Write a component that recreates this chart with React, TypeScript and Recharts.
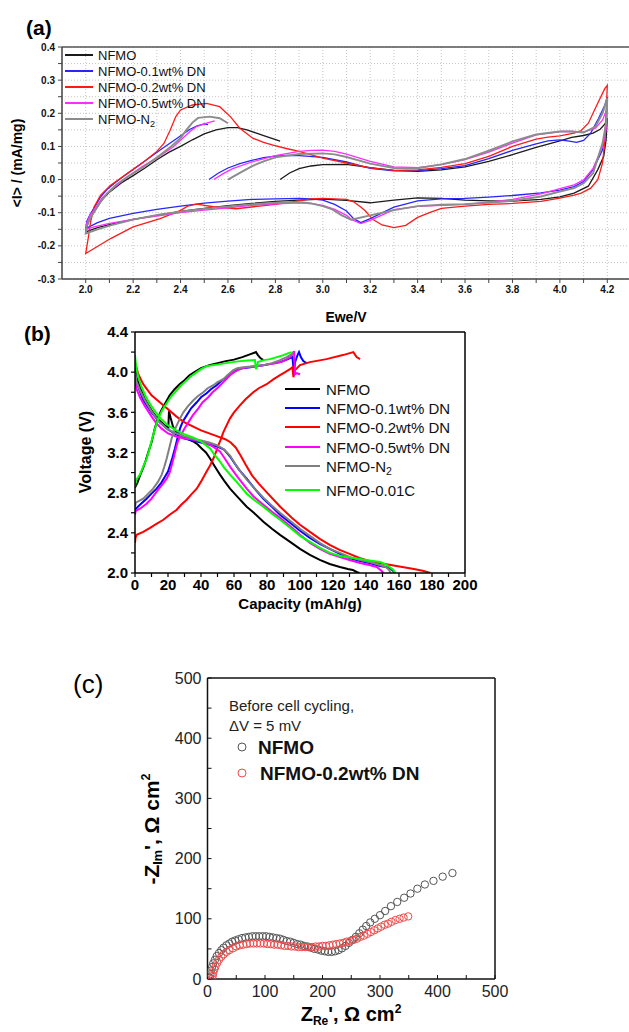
import React from 'react';
import { LineChart, Line, XAxis, YAxis, CartesianGrid, ScatterChart, Scatter } from 'recharts';

type P = [number, number];
const FONT = '"Liberation Sans", Arial, Helvetica, sans-serif';

// ---------- Panel (a): cyclic voltammetry (Ewe/V vs <I> mA/mg) ----------
const cvNFMO: P[] = [
  [2.82, 0.0], [2.86, 0.02], [2.9, 0.033], [2.95, 0.041], [3.0, 0.045], [3.1, 0.046], [3.2, 0.036], [3.3, 0.028], [3.4, 0.025], [3.5, 0.029], [3.6, 0.038], [3.7, 0.055], [3.8, 0.075], [3.9, 0.097], [4.0, 0.117], [4.05, 0.127], [4.1, 0.133], [4.14, 0.14], [4.17, 0.152], [4.19, 0.168], [4.2, 0.186],
  [4.195, 0.12], [4.185, 0.07], [4.16, 0.03], [4.12, -0.02], [4.06, -0.041], [4.0, -0.052], [3.92, -0.06], [3.8, -0.065], [3.7, -0.064], [3.6, -0.062], [3.5, -0.057], [3.4, -0.055], [3.3, -0.062], [3.2, -0.07], [3.1, -0.063], [3.0, -0.059], [2.9, -0.062], [2.8, -0.066], [2.7, -0.072], [2.6, -0.079], [2.5, -0.087], [2.4, -0.096], [2.3, -0.108], [2.2, -0.12], [2.1, -0.136], [2.05, -0.145], [2.0, -0.158],
  [2.01, -0.13], [2.035, -0.098], [2.07, -0.06], [2.1, -0.038], [2.15, -0.01], [2.2, 0.012], [2.25, 0.035], [2.3, 0.06], [2.35, 0.082], [2.4, 0.1], [2.45, 0.12], [2.5, 0.138], [2.55, 0.15], [2.6, 0.157], [2.64, 0.157], [2.68, 0.15], [2.72, 0.14], [2.76, 0.13], [2.82, 0.116],
];
const cv01: P[] = [
  [2.52, 0.0], [2.56, 0.02], [2.6, 0.035], [2.65, 0.048], [2.7, 0.058], [2.75, 0.066], [2.8, 0.071], [2.85, 0.073], [2.9, 0.072], [3.0, 0.067], [3.1, 0.053], [3.2, 0.034], [3.3, 0.026], [3.4, 0.027], [3.5, 0.033], [3.6, 0.042], [3.7, 0.063], [3.8, 0.088], [3.9, 0.108], [3.95, 0.117], [4.0, 0.12], [4.04, 0.116], [4.07, 0.112], [4.1, 0.118], [4.13, 0.14], [4.16, 0.18], [4.19, 0.225], [4.2, 0.25],
  [4.195, 0.17], [4.18, 0.09], [4.14, 0.03], [4.1, -0.006], [4.06, -0.021], [4.0, -0.032], [3.92, -0.04], [3.8, -0.048], [3.7, -0.053], [3.6, -0.057], [3.5, -0.058], [3.4, -0.064], [3.3, -0.083], [3.2, -0.118], [3.16, -0.13], [3.13, -0.118], [3.1, -0.095], [3.05, -0.075], [3.0, -0.062], [2.95, -0.058], [2.9, -0.057], [2.8, -0.058], [2.7, -0.06], [2.6, -0.065], [2.5, -0.071], [2.4, -0.08], [2.3, -0.09], [2.2, -0.102], [2.1, -0.117], [2.05, -0.13], [2.0, -0.148],
  [2.005, -0.125], [2.02, -0.103], [2.04, -0.08], [2.063, -0.052], [2.09, -0.03], [2.12, -0.012], [2.175, 0.018], [2.244, 0.053], [2.314, 0.089], [2.384, 0.124], [2.44, 0.152], [2.47, 0.162], [2.5, 0.168], [2.516, 0.166],
];
const cv02: P[] = [
  [2.727, 0.119], [2.75, 0.112], [2.79, 0.104], [2.85, 0.093], [2.9, 0.085], [3.0, 0.065], [3.1, 0.05], [3.2, 0.035], [3.3, 0.028], [3.4, 0.029], [3.5, 0.037], [3.6, 0.048], [3.7, 0.07], [3.8, 0.1], [3.9, 0.122], [3.95, 0.128], [4.0, 0.132], [4.06, 0.14], [4.09, 0.148], [4.12, 0.17], [4.16, 0.231], [4.19, 0.275], [4.2, 0.284],
  [4.195, 0.2], [4.19, 0.12], [4.18, 0.05], [4.16, 0.0], [4.13, -0.026], [4.09, -0.041], [4.06, -0.047], [4.0, -0.056], [3.92, -0.066], [3.8, -0.072], [3.7, -0.075], [3.6, -0.08], [3.5, -0.087], [3.45, -0.1], [3.4, -0.114], [3.35, -0.138], [3.3, -0.145], [3.25, -0.137], [3.21, -0.12], [3.18, -0.095], [3.16, -0.083], [3.13, -0.067], [3.1, -0.06], [3.0, -0.057], [2.95, -0.058], [2.873, -0.067], [2.8, -0.075], [2.733, -0.08], [2.635, -0.088], [2.538, -0.082], [2.468, -0.074], [2.43, -0.08], [2.4, -0.093], [2.314, -0.118], [2.2, -0.143], [2.105, -0.178], [2.035, -0.208], [2.0, -0.223],
  [2.01, -0.18], [2.02, -0.13], [2.035, -0.083], [2.063, -0.047], [2.105, -0.017], [2.175, 0.018], [2.244, 0.053], [2.3, 0.085], [2.33, 0.109], [2.356, 0.149], [2.38, 0.19], [2.4, 0.21], [2.45, 0.225], [2.51, 0.23], [2.565, 0.22], [2.61, 0.19], [2.65, 0.155], [2.706, 0.124], [2.727, 0.119],
];
const cv05: P[] = [
  [2.54, 0.0], [2.58, 0.018], [2.62, 0.033], [2.7, 0.053], [2.8, 0.072], [2.9, 0.085], [2.95, 0.088], [3.0, 0.089], [3.05, 0.085], [3.1, 0.077], [3.2, 0.055], [3.3, 0.038], [3.4, 0.036], [3.5, 0.045], [3.6, 0.06], [3.7, 0.083], [3.8, 0.11], [3.9, 0.135], [4.0, 0.145], [4.05, 0.145], [4.1, 0.143], [4.15, 0.155], [4.18, 0.18], [4.2, 0.216],
  [4.195, 0.15], [4.18, 0.1], [4.14, 0.034], [4.1, -0.001], [4.06, -0.016], [4.0, -0.027], [3.92, -0.043], [3.8, -0.06], [3.7, -0.068], [3.6, -0.075], [3.5, -0.078], [3.4, -0.081], [3.3, -0.091], [3.2, -0.123], [3.16, -0.133], [3.12, -0.12], [3.1, -0.108], [3.05, -0.09], [3.0, -0.078], [2.95, -0.072], [2.9, -0.07], [2.8, -0.073], [2.7, -0.078], [2.6, -0.085], [2.5, -0.092], [2.4, -0.1], [2.3, -0.11], [2.2, -0.12], [2.1, -0.132], [2.035, -0.143], [2.0, -0.151],
  [2.005, -0.13], [2.02, -0.105], [2.035, -0.093], [2.07, -0.055], [2.1, -0.036], [2.175, 0.008], [2.24, 0.04], [2.3, 0.065], [2.37, 0.099], [2.44, 0.145], [2.467, 0.16], [2.51, 0.17], [2.544, 0.177],
];
const cvN2: P[] = [
  [2.6, 0.0], [2.65, 0.02], [2.7, 0.04], [2.75, 0.055], [2.8, 0.067], [2.9, 0.077], [3.0, 0.079], [3.05, 0.076], [3.1, 0.068], [3.2, 0.048], [3.3, 0.035], [3.4, 0.034], [3.5, 0.046], [3.6, 0.062], [3.7, 0.087], [3.8, 0.115], [3.9, 0.136], [4.0, 0.145], [4.05, 0.145], [4.1, 0.142], [4.15, 0.16], [4.18, 0.2], [4.2, 0.246],
  [4.195, 0.17], [4.18, 0.11], [4.14, 0.019], [4.1, -0.011], [4.06, -0.026], [4.0, -0.036], [3.92, -0.051], [3.8, -0.064], [3.7, -0.07], [3.6, -0.074], [3.5, -0.076], [3.4, -0.08], [3.3, -0.092], [3.2, -0.108], [3.12, -0.121], [3.08, -0.108], [3.04, -0.09], [3.0, -0.08], [2.95, -0.072], [2.9, -0.068], [2.8, -0.07], [2.733, -0.073], [2.6, -0.081], [2.454, -0.092], [2.314, -0.105], [2.2, -0.121], [2.105, -0.138], [2.05, -0.15], [2.0, -0.163],
  [2.005, -0.14], [2.02, -0.115], [2.035, -0.098], [2.06, -0.07], [2.09, -0.042], [2.13, -0.015], [2.175, 0.008], [2.244, 0.038], [2.314, 0.074], [2.36, 0.1], [2.4, 0.125], [2.425, 0.15], [2.45, 0.172], [2.474, 0.186], [2.523, 0.19], [2.565, 0.185], [2.6, 0.17],
];
const aXTicks = [2.0, 2.1, 2.2, 2.3, 2.4, 2.5, 2.6, 2.7, 2.8, 2.9, 3.0, 3.1, 3.2, 3.3, 3.4, 3.5, 3.6, 3.7, 3.8, 3.9, 4.0, 4.1, 4.2];
const aYTicks = [-0.3, -0.25, -0.2, -0.15, -0.1, -0.05, 0.0, 0.05, 0.1, 0.15, 0.2, 0.25, 0.3, 0.35, 0.4];

// ---------- Panel (b): charge / discharge (Capacity mAh/g vs Voltage V) ----------
const chNFMO: P[] = [[0, 2.85], [1.5, 2.9], [3, 2.97], [5, 3.05], [6.5, 3.12], [8, 3.2], [10, 3.3], [12, 3.44], [14, 3.55], [16, 3.62], [18, 3.68], [21, 3.77], [24, 3.83], [27, 3.88], [30, 3.92], [33, 3.97], [36, 4.0], [40, 4.04], [45, 4.07], [50, 4.09], [55, 4.11], [60, 4.125], [65, 4.15], [70, 4.18], [73.3, 4.2], [74.5, 4.17], [76, 4.14], [77.8, 4.12]];
const dcNFMO: P[] = [[0, 4.07], [1, 3.95], [3, 3.85], [6, 3.73], [10, 3.62], [14, 3.53], [18, 3.47], [20.2, 3.45], [20.6, 3.61], [21.5, 3.55], [23, 3.46], [25, 3.4], [27.3, 3.37], [31, 3.34], [35.4, 3.31], [38, 3.28], [40.4, 3.24], [43, 3.2], [45.5, 3.14], [48, 3.07], [51.5, 2.98], [54, 2.92], [57.6, 2.84], [62, 2.76], [67.7, 2.66], [72, 2.6], [77.8, 2.51], [83, 2.44], [87.9, 2.38], [94, 2.31], [100, 2.24], [106, 2.18], [112, 2.13], [118, 2.09], [124.2, 2.06], [129, 2.04], [132, 2.03], [134.3, 2.01], [136, 2.0]];
const ch01: P[] = [[0, 2.6], [0.5, 2.64], [3, 2.68], [7, 2.74], [10, 2.79], [13.1, 2.84], [16, 2.9], [18.2, 2.96], [20, 3.01], [21.2, 3.07], [22.7, 3.15], [24.2, 3.24], [25.7, 3.34], [27.3, 3.44], [29, 3.51], [31.3, 3.57], [34, 3.64], [37.4, 3.7], [40, 3.75], [43.4, 3.79], [46, 3.83], [49.5, 3.87], [52, 3.91], [55.6, 3.95], [58, 3.98], [61.6, 4.02], [65, 4.04], [70, 4.05], [77.8, 4.07], [83, 4.085], [87.9, 4.1], [92, 4.125], [95.4, 4.15], [96.3, 4.0], [97, 4.1], [98.5, 4.17], [99.4, 4.2], [100.5, 4.15], [102, 4.11], [104, 4.09]];
const dc01: P[] = [[0, 4.0], [1, 3.9], [2, 3.85], [5, 3.72], [10, 3.6], [15, 3.5], [20, 3.43], [25, 3.38], [30, 3.34], [35, 3.32], [40, 3.3], [45, 3.28], [50, 3.26], [54, 3.23], [57.6, 3.16], [60, 3.1], [63, 3.03], [67.7, 2.94], [72, 2.85], [77.8, 2.74], [83, 2.66], [87.9, 2.58], [94, 2.5], [100, 2.42], [106, 2.35], [112, 2.29], [118, 2.24], [124.2, 2.19], [130, 2.15], [136.4, 2.12], [142, 2.1], [148.5, 2.07], [152, 2.06], [154.5, 2.05], [156.5, 2.02], [157.6, 2.0]];
const ch02: P[] = [[0, 2.3], [0.3, 2.35], [1, 2.38], [5, 2.41], [9.1, 2.45], [13, 2.49], [17.2, 2.53], [21, 2.58], [25.3, 2.63], [28, 2.68], [31.3, 2.73], [34, 2.78], [37.4, 2.84], [40, 2.91], [43.4, 3.01], [45.5, 3.07], [47.5, 3.14], [49, 3.2], [50.5, 3.27], [52, 3.33], [53.5, 3.4], [55.5, 3.47], [57.6, 3.54], [60, 3.6], [63.6, 3.67], [67, 3.73], [71.7, 3.8], [75, 3.84], [79.8, 3.88], [84, 3.93], [87.9, 3.97], [91, 4.0], [93.9, 4.03], [95.4, 4.05], [96, 3.95], [97, 4.02], [100, 4.07], [106, 4.1], [116, 4.13], [126, 4.17], [132.3, 4.2], [134.3, 4.15], [136.4, 4.13]];
const dc02: P[] = [[0, 4.1], [2, 3.98], [5, 3.88], [10, 3.77], [15, 3.7], [20, 3.63], [25, 3.56], [30, 3.5], [35, 3.46], [40, 3.42], [45, 3.39], [50, 3.36], [55, 3.33], [58, 3.3], [61, 3.25], [64, 3.17], [67, 3.08], [71, 2.97], [75, 2.89], [80, 2.8], [88, 2.66], [95, 2.55], [100, 2.48], [106, 2.41], [112, 2.34], [118, 2.28], [124, 2.23], [130, 2.19], [136, 2.15], [142, 2.12], [148, 2.1], [155, 2.08], [162, 2.06], [169, 2.04], [175, 2.02], [179, 2.0]];
const ch05: P[] = [[0, 2.58], [0.4, 2.62], [3, 2.64], [7, 2.69], [10, 2.74], [14.1, 2.83], [17, 2.89], [19.2, 2.94], [21, 3.0], [22.2, 3.07], [23.5, 3.15], [24.8, 3.24], [26, 3.31], [27.7, 3.37], [30, 3.44], [32.3, 3.5], [35, 3.57], [38.4, 3.64], [41, 3.7], [44.4, 3.75], [47, 3.8], [50.5, 3.85], [54, 3.91], [57.6, 3.97], [60, 4.0], [63.6, 4.03], [68, 4.05], [73.7, 4.06], [80, 4.075], [85.9, 4.09], [90, 4.11], [94, 4.15], [95.5, 4.18], [96.4, 4.21], [97, 3.98], [98, 3.99], [100, 3.98]];
const dc05: P[] = [[0, 3.92], [1, 3.83], [3, 3.75], [6, 3.66], [10, 3.56], [13, 3.49], [16, 3.44], [20, 3.39], [25, 3.36], [30, 3.34], [35, 3.33], [40, 3.31], [43.4, 3.29], [47, 3.26], [51.5, 3.21], [54, 3.15], [57.6, 3.06], [62, 2.96], [67.7, 2.84], [72, 2.76], [77.8, 2.68], [83, 2.61], [87.9, 2.55], [93, 2.48], [98, 2.41], [100, 2.38], [106, 2.3], [112, 2.24], [118, 2.19], [124.2, 2.16], [130, 2.13], [136.4, 2.1], [142, 2.08], [146.5, 2.06], [148, 2.04], [149.5, 2.02], [150.5, 2.0]];
const chN2: P[] = [[0, 2.66], [0.5, 2.7], [5, 2.74], [8, 2.79], [11, 2.84], [14, 2.91], [16.2, 2.98], [17.8, 3.06], [19.2, 3.14], [20.7, 3.24], [22.2, 3.34], [23.7, 3.41], [25.3, 3.47], [27, 3.53], [29.3, 3.6], [32, 3.66], [35.4, 3.72], [38, 3.76], [41.4, 3.8], [44, 3.84], [47.5, 3.87], [50, 3.9], [53.5, 3.93], [56, 3.97], [59.6, 4.02], [62, 4.04], [65.7, 4.05], [72, 4.06], [77.8, 4.07], [83, 4.09], [87.9, 4.12], [92, 4.15], [95, 4.18], [96, 4.2]];
const dcN2: P[] = [[0, 4.0], [1, 3.9], [3, 3.82], [6, 3.72], [10, 3.61], [15, 3.5], [20, 3.43], [25, 3.39], [30, 3.36], [35, 3.34], [40, 3.32], [45, 3.3], [50, 3.27], [54, 3.23], [57.6, 3.17], [61, 3.08], [64, 3.01], [67.7, 2.93], [72, 2.85], [77.8, 2.75], [83, 2.67], [87.9, 2.6], [94, 2.52], [100, 2.44], [106, 2.37], [112, 2.3], [118, 2.24], [124.2, 2.2], [130, 2.16], [136.4, 2.13], [142, 2.11], [148.5, 2.08], [152, 2.06], [154, 2.03], [155, 2.0]];
const ch001C: P[] = [[0, 2.86], [0.5, 2.92], [3, 2.98], [5, 3.06], [7.1, 3.14], [8.5, 3.22], [10.1, 3.32], [12, 3.43], [14.1, 3.54], [16.5, 3.62], [19.2, 3.69], [22, 3.76], [25.3, 3.82], [28, 3.87], [31.3, 3.92], [34, 3.96], [37.4, 4.0], [40, 4.03], [43.4, 4.06], [47, 4.07], [51.5, 4.08], [57, 4.095], [63.6, 4.11], [68, 4.115], [72.7, 4.12], [73.3, 4.03], [74, 4.06], [74.5, 4.1], [78, 4.12], [81.8, 4.13], [86, 4.15], [89.9, 4.17], [93, 4.19], [95, 4.2]];
const dc001C: P[] = [[0, 4.17], [0.7, 4.05], [2, 3.95], [4, 3.85], [7, 3.74], [10, 3.66], [13, 3.59], [16, 3.53], [20, 3.47], [25, 3.42], [30, 3.38], [35, 3.35], [40, 3.31], [45.5, 3.24], [48, 3.18], [51.5, 3.11], [54, 3.05], [57.6, 2.98], [62, 2.9], [67.7, 2.79], [72, 2.73], [77.8, 2.66], [83, 2.59], [87.9, 2.53], [94, 2.45], [100, 2.37], [106, 2.31], [112, 2.25], [118, 2.2], [124.2, 2.17], [130, 2.155], [136.4, 2.14], [142, 2.125], [148.5, 2.11], [152.6, 2.08], [155, 2.05], [156.6, 2.03], [157.6, 2.0]];
const bXTicks = [0, 10, 20, 30, 40, 50, 60, 70, 80, 90, 100, 110, 120, 130, 140, 150, 160, 170, 180, 190, 200];
const bYTicks = [2.0, 2.2, 2.4, 2.6, 2.8, 3.0, 3.2, 3.4, 3.6, 3.8, 4.0, 4.2, 4.4];

// ---------- Panel (c): Nyquist plot (Z_Re vs -Z_Im, Ohm cm2) ----------
const eisNFMO: P[] = [[4, 2], [5, 8], [6, 14], [8, 20], [10, 26], [13, 32], [16, 38], [20, 43], [24, 48], [28, 52], [33, 56], [38, 59], [43, 62], [48, 64], [54, 66], [60, 68], [66, 69], [72, 70], [78, 71], [84, 71], [90, 71], [96, 71], [102, 71], [108, 70], [114, 69], [120, 68], [126, 67], [132, 65], [138, 63], [144, 62], [150, 60], [156, 58], [162, 57], [168, 55], [174, 54], [180, 52], [186, 50], [192, 49], [198, 47], [204, 46], [210, 45], [216, 45], [222, 46], [228, 48], [234, 51], [240, 55], [246, 60], [252, 65], [258, 70], [264, 76], [270, 82], [276, 88], [283, 94], [291, 100], [300, 106], [309, 113], [319, 121], [330, 128], [342, 135], [353, 142], [365, 150], [378, 157], [393, 163], [409, 170], [426, 176]];
const eis02: P[] = [[8, 0], [9, 5], [10, 10], [12, 16], [14, 21], [17, 27], [20, 32], [24, 37], [28, 41], [33, 45], [38, 48], [44, 51], [50, 54], [56, 56], [62, 57], [68, 58], [74, 59], [80, 59], [86, 59], [92, 59], [98, 59], [104, 58], [110, 58], [116, 57], [122, 57], [128, 56], [134, 55], [140, 55], [146, 54], [152, 54], [158, 53], [164, 53], [170, 53], [176, 53], [182, 53], [188, 54], [194, 54], [200, 55], [206, 55], [212, 56], [218, 57], [224, 58], [230, 59], [236, 60], [242, 62], [248, 63], [254, 65], [260, 67], [266, 70], [272, 72], [278, 75], [284, 78], [290, 81], [296, 84], [302, 87], [308, 90], [314, 92], [320, 95], [327, 98], [334, 100], [341, 102], [349, 104]];
const cTicks = [0, 50, 100, 150, 200, 250, 300, 350, 400, 450, 500];

const toPts = (a: P[]) => a.map(([x, y]) => ({ x, y }));

const seriesA = [
  { name: 'NFMO', data: cvNFMO, color: '#1a1a1a', w: 1.3 },
  { name: 'NFMO-0.1wt% DN', data: cv01, color: '#2626ff', w: 1.3 },
  { name: 'NFMO-0.2wt% DN', data: cv02, color: '#ff1a1a', w: 1.3 },
  { name: 'NFMO-0.5wt% DN', data: cv05, color: '#ff2dff', w: 1.3 },
  { name: 'NFMO-N2', data: cvN2, color: '#8c8c8c', w: 1.9 },
];
const seriesB = [
  { name: 'NFMO', ch: chNFMO, dc: dcNFMO, color: '#000000' },
  { name: 'NFMO-0.1wt% DN', ch: ch01, dc: dc01, color: '#0000ff' },
  { name: 'NFMO-0.2wt% DN', ch: ch02, dc: dc02, color: '#ff0000' },
  { name: 'NFMO-0.5wt% DN', ch: ch05, dc: dc05, color: '#ff00ff' },
  { name: 'NFMO-N2', ch: chN2, dc: dcN2, color: '#808080' },
  { name: 'NFMO-0.01C', ch: ch001C, dc: dc001C, color: '#00ff00' },
];

const fmtA_X = (v: number) => (Math.round(v * 10) % 2 === 0 ? v.toFixed(1) : '');
const fmtA_Y = (v: number) => (Math.abs(v * 10 - Math.round(v * 10)) < 1e-6 ? v.toFixed(1) : '');
const fmtB_X = (v: number) => (v % 20 === 0 ? String(v) : '');
const fmtB_Y = (v: number) => (Math.round(v * 10) % 4 === 0 ? v.toFixed(1) : '');
const fmtC = (v: number) => (v % 100 === 0 ? String(v) : '');

const LegendName = ({ name }: { name: string }) =>
  name.endsWith('-N2') ? (
    <span>
      {name.slice(0, -1)}
      <sub style={{ fontSize: '0.7em', verticalAlign: '-0.35em', lineHeight: 0 }}>2</sub>
    </span>
  ) : (
    <span>{name}</span>
  );

const abs = (left: number, top: number, extra: React.CSSProperties = {}): React.CSSProperties => ({
  position: 'absolute',
  left,
  top,
  fontFamily: FONT,
  whiteSpace: 'nowrap',
  lineHeight: 1,
  ...extra,
});

const legendRowsA = [55, 71, 87, 103, 119];
const legendRowsB = [389, 408, 427, 446.5, 466, 490];

const OpenCircle = (stroke: string) => (props: any) => {
  const { cx, cy } = props;
  if (cx == null || cy == null) return <g />;
  return <circle cx={cx} cy={cy} r={3.7} fill="none" stroke={stroke} strokeWidth={1} />;
};

export default function App() {
  return (
    <div style={{ position: 'absolute', left: 0, top: 0, width: 629, height: 1032, overflow: 'hidden', background: '#fff' }}>
      {/* Panel (a) */}
      <div style={{ position: 'absolute', left: 0, top: 0 }}>
        <LineChart width={660} height={330} margin={{ top: 42, right: 29, bottom: 21, left: 22 }}>
          <CartesianGrid stroke="#c4c4c4" strokeDasharray="1 2" />
          <XAxis
            type="number"
            dataKey="x"
            domain={[1.9, 4.3]}
            ticks={aXTicks}
            tickFormatter={fmtA_X}
            allowDataOverflow
            height={30}
            tickSize={4}
            tickMargin={3}
            axisLine={{ stroke: '#444', strokeWidth: 1.5 }}
            tickLine={{ stroke: '#444' }}
            tick={{ fontSize: 10, fontWeight: 700, fill: '#111', fontFamily: FONT }}
            interval={0}
          />
          <XAxis
            xAxisId="top"
            orientation="top"
            type="number"
            domain={[1.9, 4.3]}
            ticks={aXTicks}
            allowDataOverflow
            height={5}
            tick={false}
            tickSize={3}
            axisLine={{ stroke: '#555', strokeWidth: 1.5 }}
            tickLine={{ stroke: '#555' }}
          />
          <YAxis
            type="number"
            domain={[-0.3, 0.4]}
            ticks={aYTicks}
            tickFormatter={fmtA_Y}
            allowDataOverflow
            width={40}
            tickSize={4}
            tickMargin={3}
            axisLine={{ stroke: '#444', strokeWidth: 1.5 }}
            tickLine={{ stroke: '#444' }}
            tick={{ fontSize: 10, fontWeight: 700, fill: '#111', fontFamily: FONT }}
            interval={0}
          />
          {seriesA.map((s) => (
            <Line
              key={s.name}
              data={toPts(s.data)}
              dataKey="y"
              type="linear"
              stroke={s.color}
              strokeWidth={s.w}
              dot={false}
              activeDot={false}
              isAnimationActive={false}
            />
          ))}
        </LineChart>
      </div>
      <div style={abs(26, 17, { fontSize: 21, fontWeight: 700 })}>(a)</div>
      <div style={abs(17, 163, { fontSize: 14, fontWeight: 700, transform: 'translate(-50%,-50%) rotate(-90deg)' })}>&lt;I&gt; / (mA/mg)</div>
      <div style={abs(346, 317, { fontSize: 14, fontWeight: 700, transform: 'translate(-50%,-50%)' })}>Ewe/V</div>
      {seriesA.map((s, i) => (
        <React.Fragment key={'la' + s.name}>
          <div style={{ position: 'absolute', left: 65, top: legendRowsA[i] - 1, width: 28, height: 0, borderTop: `2px solid ${s.color}` }} />
          <div style={abs(98, legendRowsA[i], { fontSize: 13, color: '#111', transform: 'translateY(-50%)' })}>
            <LegendName name={s.name} />
          </div>
        </React.Fragment>
      ))}

      {/* Panel (b) */}
      <div style={{ position: 'absolute', left: 0, top: 300 }}>
        <LineChart width={629} height={320} margin={{ top: 27, right: 159, bottom: 17, left: 90 }}>
          <XAxis
            type="number"
            dataKey="x"
            domain={[0, 200]}
            ticks={bXTicks}
            tickFormatter={fmtB_X}
            allowDataOverflow
            height={30}
            tickSize={4}
            tickMargin={2}
            axisLine={{ stroke: '#000', strokeWidth: 1.5 }}
            tickLine={{ stroke: '#000', strokeWidth: 1.2 }}
            tick={{ fontSize: 15, fontWeight: 700, fill: '#000', fontFamily: FONT }}
            interval={0}
          />
          <XAxis
            xAxisId="top"
            orientation="top"
            type="number"
            domain={[0, 200]}
            ticks={bXTicks}
            allowDataOverflow
            height={5}
            tick={false}
            tickSize={3}
            axisLine={{ stroke: '#000', strokeWidth: 1.5 }}
            tickLine={{ stroke: '#000' }}
          />
          <YAxis
            type="number"
            domain={[2.0, 4.4]}
            ticks={bYTicks}
            tickFormatter={fmtB_Y}
            allowDataOverflow
            width={45}
            tickSize={4}
            tickMargin={3}
            axisLine={{ stroke: '#000', strokeWidth: 1.5 }}
            tickLine={{ stroke: '#000', strokeWidth: 1.2 }}
            tick={{ fontSize: 15, fontWeight: 700, fill: '#000', fontFamily: FONT }}
            interval={0}
          />
          <YAxis
            yAxisId="right"
            orientation="right"
            type="number"
            domain={[2.0, 4.4]}
            ticks={bYTicks}
            allowDataOverflow
            width={5}
            tick={false}
            tickSize={3}
            axisLine={{ stroke: '#000', strokeWidth: 1.5 }}
            tickLine={{ stroke: '#000' }}
          />
          {seriesB.flatMap((s) => [
            <Line key={s.name + 'c'} data={toPts(s.ch)} dataKey="y" type="linear" stroke={s.color} strokeWidth={2} dot={false} activeDot={false} isAnimationActive={false} />,
            <Line key={s.name + 'd'} data={toPts(s.dc)} dataKey="y" type="linear" stroke={s.color} strokeWidth={2} dot={false} activeDot={false} isAnimationActive={false} />,
          ])}
        </LineChart>
      </div>
      <div style={abs(24, 333, { fontSize: 21, fontWeight: 700, transform: 'translateY(-50%)' })}>(b)</div>
      <div style={abs(86, 452, { fontSize: 16, fontWeight: 700, transform: 'translate(-50%,-50%) rotate(-90deg)' })}>Voltage (V)</div>
      <div style={abs(300, 603, { fontSize: 15, fontWeight: 700, transform: 'translate(-50%,-50%)' })}>Capacity (mAh/g)</div>
      {seriesB.map((s, i) => (
        <React.Fragment key={'lb' + s.name}>
          <div style={{ position: 'absolute', left: 285, top: legendRowsB[i] - 1, width: 35, height: 0, borderTop: `2.2px solid ${s.color}` }} />
          <div style={abs(326, legendRowsB[i], { fontSize: 15, color: '#111', transform: 'translateY(-50%)' })}>
            <LegendName name={s.name} />
          </div>
        </React.Fragment>
      ))}

      {/* Panel (c) */}
      <div style={{ position: 'absolute', left: 0, top: 660 }}>
        <ScatterChart width={629} height={372} margin={{ top: 16, right: 132, bottom: 23, left: 162.5 }}>
          <XAxis
            type="number"
            dataKey="x"
            domain={[0, 500]}
            ticks={cTicks}
            tickFormatter={fmtC}
            allowDataOverflow
            height={30}
            tickSize={-4}
            tickMargin={11}
            axisLine={{ stroke: '#111', strokeWidth: 1.5 }}
            tickLine={{ stroke: '#111' }}
            tick={{ fontSize: 16, fill: '#222', fontFamily: FONT }}
            interval={0}
          />
          <XAxis xAxisId="top" orientation="top" type="number" domain={[0, 500]} allowDataOverflow height={2} tick={false} tickLine={false} axisLine={{ stroke: '#111', strokeWidth: 1.5 }} />
          <YAxis
            type="number"
            dataKey="y"
            domain={[0, 500]}
            ticks={cTicks}
            tickFormatter={fmtC}
            allowDataOverflow
            width={45}
            tickSize={-4}
            tickMargin={10}
            axisLine={{ stroke: '#111', strokeWidth: 1.5 }}
            tickLine={{ stroke: '#111' }}
            tick={{ fontSize: 16, fill: '#222', fontFamily: FONT }}
            interval={0}
          />
          <YAxis yAxisId="right" orientation="right" type="number" domain={[0, 500]} allowDataOverflow width={2} tick={false} tickLine={false} axisLine={{ stroke: '#111', strokeWidth: 1.5 }} />
          <Scatter name="NFMO" data={toPts(eisNFMO)} shape={OpenCircle('#555555')} isAnimationActive={false} />
          <Scatter name="NFMO-0.2wt% DN" data={toPts(eis02)} shape={OpenCircle('#ef4a4a')} isAnimationActive={false} />
        </ScatterChart>
      </div>
      <div style={abs(73, 684, { fontSize: 26, transform: 'translateY(-50%)' })}>(c)</div>
      <div style={abs(151, 829, { fontSize: 21, fontWeight: 700, transform: 'translate(-50%,-50%) rotate(-90deg)' })}>
        -Z<sub style={{ fontSize: '0.6em', verticalAlign: '-0.3em', lineHeight: 0 }}>Im</sub>', Ω cm<sup style={{ fontSize: '0.6em', verticalAlign: '0.7em', lineHeight: 0 }}>2</sup>
      </div>
      <div style={abs(351, 1014, { fontSize: 20, fontWeight: 700, transform: 'translate(-50%,-50%)' })}>
        Z<sub style={{ fontSize: '0.6em', verticalAlign: '-0.3em', lineHeight: 0 }}>Re</sub>', Ω cm<sup style={{ fontSize: '0.6em', verticalAlign: '0.7em', lineHeight: 0 }}>2</sup>
      </div>
      <div style={abs(229, 705, { fontSize: 15, color: '#222', transform: 'translateY(-50%)' })}>Before cell cycling,</div>
      <div style={abs(229, 725, { fontSize: 15, color: '#222', transform: 'translateY(-50%)' })}>ΔV = 5 mV</div>
      <svg style={{ position: 'absolute', left: 236, top: 741 }} width={12} height={38}>
        <circle cx={6} cy={6} r={4} fill="none" stroke="#555" strokeWidth={1} />
        <circle cx={6} cy={32} r={4} fill="none" stroke="#ef4a4a" strokeWidth={1} />
      </svg>
      <div style={abs(258, 747, { fontSize: 19, fontWeight: 700, color: '#111', transform: 'translateY(-50%)' })}>NFMO</div>
      <div style={abs(260, 773, { fontSize: 19, fontWeight: 700, color: '#111', transform: 'translateY(-50%)' })}>NFMO-0.2wt% DN</div>
    </div>
  );
}
